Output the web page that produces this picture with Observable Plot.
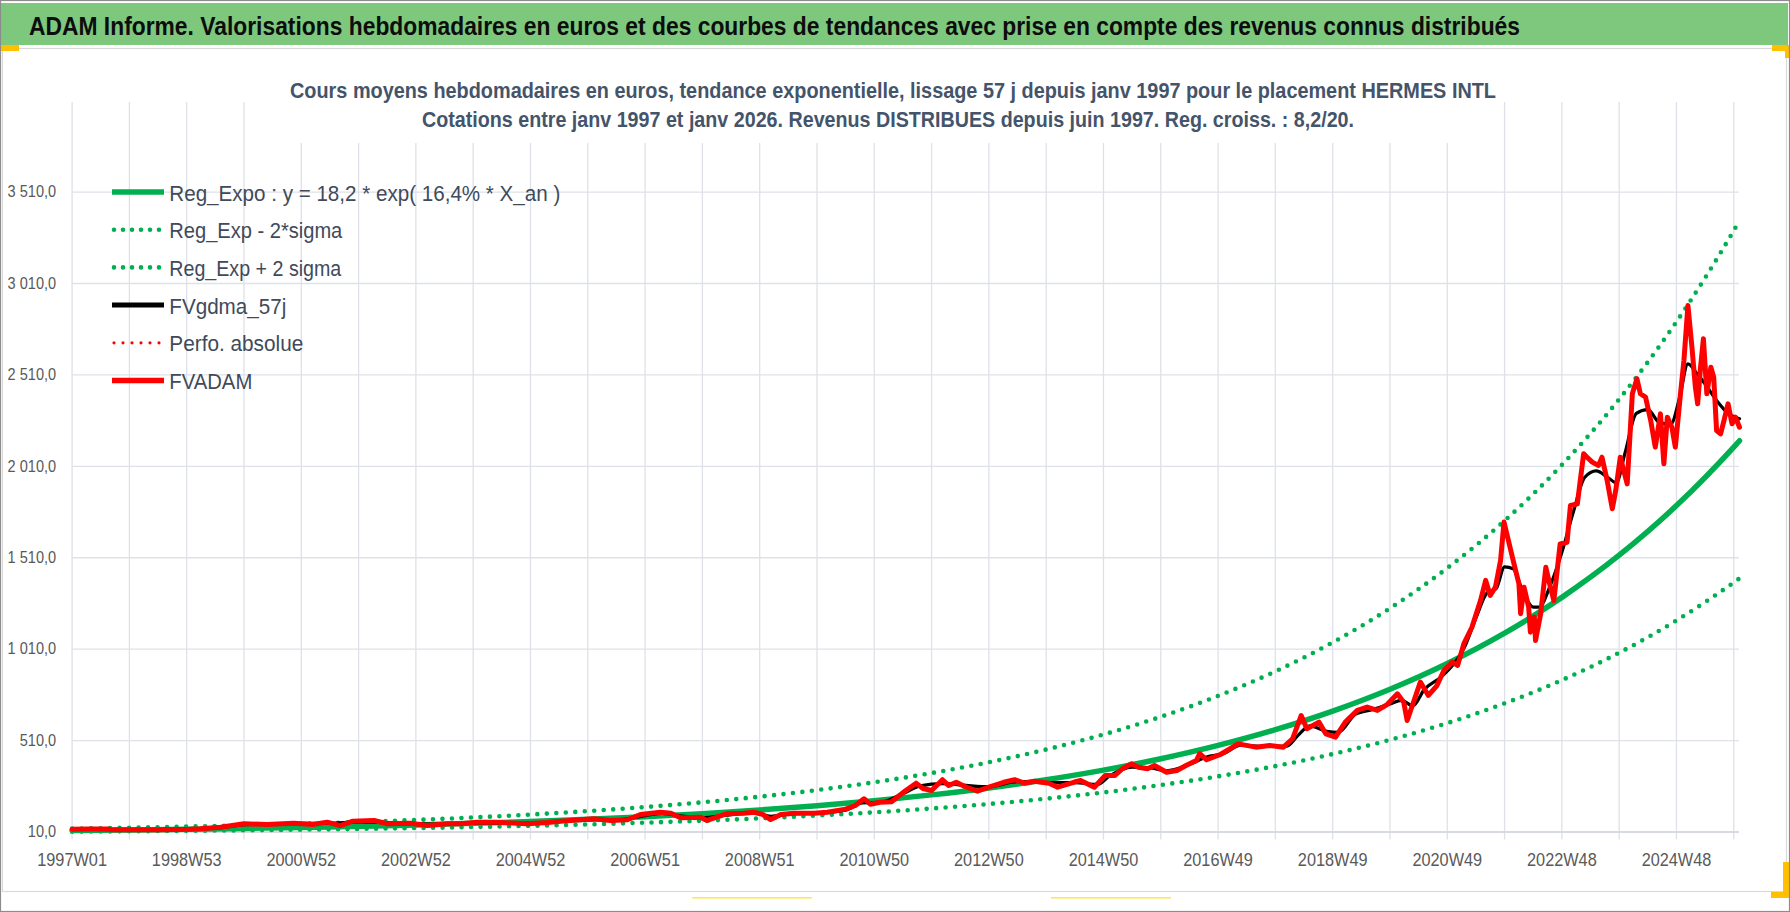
<!DOCTYPE html>
<html><head><meta charset="utf-8">
<script src="https://cdn.jsdelivr.net/npm/d3@7"></script>
<script src="https://cdn.jsdelivr.net/npm/@observablehq/plot@0.6"></script>
<style>
html,body{margin:0;padding:0;background:#fff;}
#wrap{position:relative;width:1790px;height:912px;overflow:hidden;}
#wrap svg{position:absolute;left:0;top:0;}
</style></head><body><div id="wrap"></div>
<script>
// ---------- data ----------
const titleText = "ADAM Informe. Valorisations hebdomadaires en euros et des courbes de tendances avec prise en compte des revenus connus distribués";
const subtitle1 = "Cours moyens hebdomadaires en euros, tendance exponentielle, lissage 57 j depuis janv 1997 pour le placement HERMES INTL";
const subtitle2 = "Cotations entre janv 1997 et janv 2026. Revenus DISTRIBUES depuis juin 1997. Reg. croiss. : 8,2/20.";

const xTickLabels = ["1997W01","1998W53","2000W52","2002W52","2004W52","2006W51","2008W51","2010W50","2012W50","2014W50","2016W49","2018W49","2020W49","2022W48","2024W48"];
const xLabelYears = [0,2,4,6,8,10,12,14,16,18,20,22,24,26,28];
const xGridYears = [0,1,2,3,4,5,6,7,8,9,10,11,12,13,14,15,16,17,18,19,20,21,22,23,24,25,26,27,28,29];
const yTicks = [10,510,1010,1510,2010,2510,3010,3510];

const legendLabels = ["Reg_Expo : y = 18,2 * exp( 16,4% *  X_an )","Reg_Exp - 2*sigma","Reg_Exp + 2 sigma","FVgdma_57j","Perfo. absolue","FVADAM"];

// years since 1997W01
const regYears = [0,1,2,3,4,5,6,7,8,9,10,11,12,13,14,15,16,17,18,19,20,21,22,23,24,25,26,27,28,29,29.1];
const regExpo  = [18.2,21.4,25.3,29.8,35.1,41.3,48.7,57.4,67.6,79.6,93.8,110.5,130.2,153.4,180.8,213.0,250.9,295.7,348.3,410.4,483.5,569.7,671.2,790.8,931.7,1097.8,1293.4,1523.9,1795.4,2115.4,2150];
const regMinus = [11.8,13.9,16.4,19.4,22.8,26.8,31.7,37.3,43.9,51.7,61.0,71.8,84.6,99.7,117.5,138.5,163.1,192.2,226.4,266.8,314.3,370.3,436.3,514.0,605.6,713.6,840.7,990.5,1167.0,1375.0,1397.5];
const regPlus  = [28.4,33.4,39.5,46.5,54.8,64.4,76.0,89.5,105.5,124.2,146.3,172.4,203.1,239.3,282.0,332.3,391.4,461.3,543.3,640.2,754.3,888.7,1047.1,1233.6,1453.5,1712.6,2017.7,2377.3,2800.8,3300.0,3354];

// FVADAM weekly valuation (years since 1997W01, euros)
const fvadamPoints = [
[0,25],[0.3,26],[0.64,27],[0.67,22],[1,22],[1.54,22],[2.05,25],[2.24,28],[2.59,36],[3,55],[3.4,51],[3.87,58],[4.2,51],[4.45,64],[4.68,45],[4.9,69],
[5.27,73],[5.5,55],[5.9,58],[6.2,45],[6.55,55],[6.78,55],[7.07,64],[7.36,64],[7.94,55],[8.3,62],[8.52,69],[9.1,82],[9.4,73],[9.69,77],[9.92,106],
[10.27,118],[10.45,113],[10.62,88],[10.97,91],[11.08,73],[11.43,110],[11.72,113],[11.9,118],[12.05,106],[12.19,78],[12.37,106],[12.6,113],[12.95,113],
[13.18,118],[13.5,135],[13.67,155],[13.82,192],[13.93,162],[14.1,173],[14.3,175],[14.55,237],[14.73,277],[14.85,248],[15,237],[15.19,296],[15.3,264],
[15.43,282],[15.58,259],[15.8,233],[16,255],[16.26,282],[16.45,296],[16.62,277],[16.8,288],[17.05,277],[17.2,255],[17.48,282],[17.6,292],[17.84,255],
[18.03,319],[18.2,319],[18.33,356],[18.49,383],[18.61,364],[18.77,356],[18.89,374],[19.1,337],[19.28,346],[19.44,374],[19.62,401],[19.68,438],[19.8,405],
[20.04,434],[20.35,492],[20.66,474],[20.9,483],[21.14,474],[21.3,520],[21.45,647],[21.55,575],[21.76,611],[21.88,547],[22.05,529],[22.22,611],[22.43,675],
[22.6,693],[22.78,675],[22.95,707],[23.13,766],[23.24,720],[23.3,620],[23.42,729],[23.53,830],[23.67,757],[23.82,811],[23.94,893],[24.09,939],[24.18,921],
[24.29,1040],[24.43,1130],[24.58,1276],[24.67,1386],[24.75,1304],[24.84,1349],[24.93,1495],[24.99,1705],[25.06,1614],[25.15,1495],[25.25,1368],[25.28,1204],
[25.34,1349],[25.42,1240],[25.45,1103],[25.52,1185],[25.54,1057],[25.63,1204],[25.72,1458],[25.8,1349],[25.86,1276],[25.97,1586],[26.09,1595],[26.15,1796],
[26.27,1805],[26.38,2079],[26.44,2060],[26.53,2033],[26.64,2015],[26.7,2060],[26.79,1933],[26.88,1778],[26.94,1878],[27.02,2060],[27.08,1987],[27.14,1914],
[27.23,2407],[27.31,2489],[27.37,2407],[27.46,2389],[27.55,2261],[27.63,2115],[27.72,2297],[27.78,2024],[27.84,2279],[27.92,2224],[27.98,2115],[28.07,2407],
[28.13,2589],[28.2,2890],[28.27,2662],[28.33,2443],[28.37,2352],[28.42,2552],[28.47,2708],[28.53,2407],[28.6,2552],[28.65,2498],[28.7,2206],[28.77,2188],
[28.83,2261],[28.9,2352],[28.97,2243],[29.03,2279],[29.1,2224]
];

// FVgdma_57j smoothed valuation
const gdmaPoints = [
[0,25],[1,23],[2,26],[2.6,34],[3,50],[4,57],[4.5,58],[5,64],[5.5,62],[6,55],[6.5,53],[7,60],[8,58],[8.5,66],[9,78],[9.5,76],[10,100],[10.3,112],[10.7,95],
[11,88],[11.4,102],[11.9,114],[12.2,96],[12.5,108],[13,114],[13.5,130],[13.8,170],[14.1,172],[14.5,220],[14.8,262],[15.2,275],[15.6,265],[16,258],[16.5,285],
[17,280],[17.5,280],[17.9,270],[18.1,315],[18.5,365],[18.8,362],[19.1,345],[19.5,380],[19.8,420],[20.1,440],[20.4,485],[20.8,478],[21.2,480],[21.4,540],
[21.6,590],[21.9,560],[22.1,555],[22.4,655],[22.7,680],[23,710],[23.2,730],[23.4,700],[23.6,790],[23.9,860],[24.1,925],[24.3,1020],[24.5,1180],[24.7,1320],
[24.85,1340],[25,1460],[25.15,1450],[25.3,1340],[25.5,1240],[25.6,1240],[25.8,1360],[26,1540],[26.2,1760],[26.4,1950],[26.6,1985],[26.8,1950],[26.95,1920],
[27.1,2080],[27.3,2300],[27.5,2320],[27.7,2250],[27.9,2240],[28.05,2380],[28.2,2570],[28.35,2520],[28.5,2460],[28.7,2370],[28.9,2300],[29.1,2270]
];

// ---------- build ----------
const FONT = "'Liberation Sans', Arial, sans-serif";
const GRID = "#DEE1E7";
const GREEN = "#00B050";
const labelOf = new Map(xLabelYears.map((t, i) => [t, xTickLabels[i]]));
const fmt = d3.formatLocale({decimal: ",", thousands: " ", grouping: [3], currency: ["", ""]}).format(",.1f");

const regRows = regYears.map((t, i) => ({t, mid: regExpo[i], lo: regMinus[i], hi: regPlus[i]}));
const fvadam = fvadamPoints.map(([t, v]) => ({t, v}));
const gdma = gdmaPoints.map(([t, v]) => ({t, v}));

const chart = Plot.plot({
  width: 1790, height: 912,
  marginLeft: 71.6, marginRight: 51, marginTop: 102, marginBottom: 80.5,
  x: {type: "linear", domain: [0, 29.1]},
  y: {type: "linear", domain: [10, 4000]},
  style: {background: "white", fontFamily: FONT},
  marks: [
    Plot.gridY(yTicks, {stroke: GRID, strokeOpacity: 1, strokeWidth: 1.3}),
    Plot.gridX(xGridYears, {stroke: GRID, strokeOpacity: 1, strokeWidth: 1.3}),
    Plot.axisX(xGridYears, {tickSize: 8, color: GRID, strokeWidth: 1.3, tickFormat: () => "", label: null}),
    Plot.axisX(xLabelYears, {tickSize: 0, tickPadding: 21, tickFormat: d => labelOf.get(d), fontSize: 18.5, color: "#595959", label: null}),
    Plot.axisY(yTicks, {tickSize: 0, tickPadding: 16, tickFormat: fmt, fontSize: 16.5, color: "#595959", label: null}),
    Plot.ruleY([10], {stroke: "#D3D6DC", strokeWidth: 1.6}),
    Plot.line(regRows, {x: "t", y: "lo", stroke: GREEN, strokeWidth: 4.6, strokeDasharray: "0 9.5", strokeLinecap: "round", curve: "monotone-x"}),
    Plot.line(regRows, {x: "t", y: "hi", stroke: GREEN, strokeWidth: 4.6, strokeDasharray: "0 9.5", strokeLinecap: "round", curve: "monotone-x"}),
    Plot.line(regRows, {x: "t", y: "mid", stroke: GREEN, strokeWidth: 5.5, curve: "monotone-x"}),
    Plot.line(gdma, {x: "t", y: "v", stroke: "#000000", strokeWidth: 3.2, curve: "monotone-x"}),
    Plot.line(fvadam, {x: "t", y: "v", stroke: "#FF0000", strokeWidth: 5, strokeLinejoin: "round"})
  ]
});
const wrap = document.getElementById("wrap");
wrap.appendChild(chart);
// narrow the tick labels a little (condensed look of the original)
chart.querySelectorAll('g[aria-label="x-axis tick label"] text, g[aria-label="y-axis tick label"] text').forEach(t => {
  const len = t.getComputedTextLength();
  if (len > 0) { t.setAttribute("textLength", (len * 0.88).toFixed(1)); t.setAttribute("lengthAdjust", "spacingAndGlyphs"); }
});

// ---------- overlay: title bar, subtitles, legend, frame ----------
const legendStyles = [
  {color: GREEN, dash: null, w: 5.5, len: 391},
  {color: GREEN, dash: "0 9", w: 4.6, len: 173},
  {color: GREEN, dash: "0 9", w: 4.6, len: 172},
  {color: "#000000", dash: null, w: 5, len: 117},
  {color: "#FF0000", dash: "0 9", w: 3.2, len: 134},
  {color: "#FF0000", dash: null, w: 5.5, len: 83}
];
let s = `<svg xmlns="http://www.w3.org/2000/svg" width="1790" height="912" viewBox="0 0 1790 912" style="font-family:${FONT};pointer-events:none">`;
s += `<rect x="2.5" y="48.5" width="1784" height="843" fill="none" stroke="#D9D9D9" stroke-width="1.2"/>`;
s += `<rect x="1" y="3" width="1787" height="42" fill="#7DC87D"/>`;
s += `<text x="29" y="35" font-size="26" font-weight="bold" fill="#0D0D0D" textLength="1491" lengthAdjust="spacingAndGlyphs">${titleText}</text>`;
s += `<rect x="0" y="45" width="19" height="6" fill="#FFC000"/>`;
s += `<rect x="1772" y="45" width="18" height="6" fill="#FFC000"/><rect x="1785" y="45" width="5" height="13" fill="#FFC000"/>`;
s += `<rect x="1783" y="862" width="7" height="36" fill="#FFC000"/><rect x="1771" y="892" width="19" height="6" fill="#FFC000"/>`;
s += `<line x1="692" x2="812" y1="897.7" y2="897.7" stroke="#FFEA3A" stroke-width="1.6"/>`;
s += `<line x1="1051" x2="1171" y1="897.7" y2="897.7" stroke="#FFEA3A" stroke-width="1.6"/>`;
s += `<rect x="0.5" y="0.5" width="1789" height="911" fill="none" stroke="#8C8C8C" stroke-width="1.2"/>`;
s += `<rect x="283" y="52" width="1200" height="91" fill="#ffffff"/>`;
s += `<text x="290" y="98" font-size="21.5" font-weight="bold" fill="#44546A" textLength="1206" lengthAdjust="spacingAndGlyphs">${subtitle1}</text>`;
s += `<text x="422" y="127" font-size="21.5" font-weight="bold" fill="#44546A" textLength="932" lengthAdjust="spacingAndGlyphs">${subtitle2}</text>`;
legendLabels.forEach((lab, i) => {
  const st = legendStyles[i];
  const cy = 192 + i * 37.7;
  const dash = st.dash ? ` stroke-dasharray="${st.dash}" stroke-linecap="round"` : "";
  const x1 = st.dash ? 114 : 112, x2 = st.dash ? 160 : 164;
  s += `<line x1="${x1}" x2="${x2}" y1="${cy}" y2="${cy}" stroke="${st.color}" stroke-width="${st.w}"${dash}/>`;
  s += `<text x="169.3" y="${cy + 8.5}" font-size="22" fill="#404A5A" textLength="${st.len}" lengthAdjust="spacingAndGlyphs">${lab}</text>`;
});
s += `</svg>`;
wrap.insertAdjacentHTML("beforeend", s);
</script></body></html>
